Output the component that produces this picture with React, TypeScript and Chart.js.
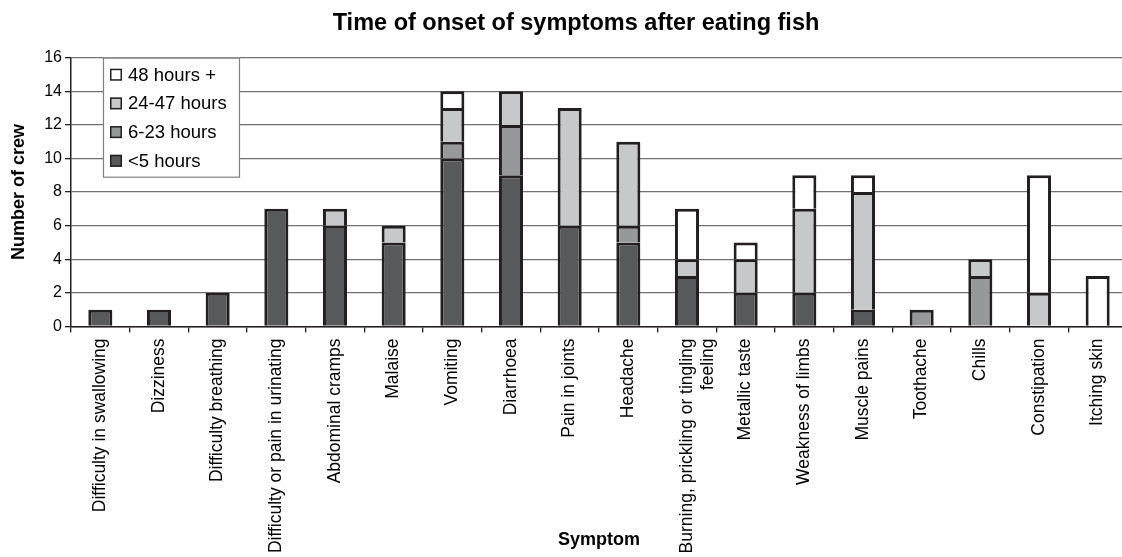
import React, { useEffect, useRef } from 'react';
import { Chart, registerables } from 'chart.js';

Chart.register(...registerables);

const categories: (string | string[])[] = [
  'Difficulty in swallowing',
  'Dizziness',
  'Difficulty breathing',
  'Difficulty or pain in urinating',
  'Abdominal cramps',
  'Malaise',
  'Vomiting',
  'Diarrhoea',
  'Pain in joints',
  'Headache',
  ['Burning, prickling or tingling', 'feeling'],
  'Metallic taste',
  'Weakness of limbs',
  'Muscle pains',
  'Toothache',
  'Chills',
  'Constipation',
  'Itching skin',
];

const under5Hours = [1, 1, 2, 7, 6, 5, 10, 9, 6, 5, 3, 2, 2, 1, 0, 0, 0, 0];
const hours6to23 = [0, 0, 0, 0, 0, 0, 1, 3, 0, 1, 0, 0, 0, 0, 1, 3, 0, 0];
const hours24to47 = [0, 0, 0, 0, 1, 1, 2, 2, 7, 5, 1, 2, 5, 7, 0, 1, 2, 0];
const hours48plus = [0, 0, 0, 0, 0, 0, 1, 0, 0, 0, 3, 1, 2, 1, 0, 0, 7, 3];

const seriesLabels = ['<5 hours', '6-23 hours', '24-47 hours', '48 hours +'];
const seriesColors = ['#58595b', '#97989a', '#c7c8ca', '#ffffff'];

const yTicks = { min: 0, max: 16, step: 2 };

const FONT = '"Liberation Sans", Arial, Helvetica, sans-serif';

const boxLegend = {
  id: 'boxLegend',
  afterDatasetsDraw(chart: any) {
    const ctx = chart.ctx as CanvasRenderingContext2D;
    const { left, top } = chart.chartArea;
    const x = left + 32;
    const y = top;
    const w = 137;
    const h = 120;
    ctx.save();
    ctx.fillStyle = '#ffffff';
    ctx.fillRect(x, y, w, h);
    ctx.strokeStyle = '#808080';
    ctx.lineWidth = 1.2;
    ctx.strokeRect(x + 0.5, y + 0.5, w - 1, h - 1);
    const ds = chart.data.datasets.slice().reverse();
    ds.forEach((d: any, i: number) => {
      const cy = y + 17 + i * 28.7;
      ctx.fillStyle = d.backgroundColor;
      ctx.fillRect(x + 7, cy - 6, 12, 12);
      ctx.strokeStyle = '#231f20';
      ctx.lineWidth = 1.5;
      ctx.strokeRect(x + 7.75, cy - 5.25, 10.5, 10.5);
      ctx.fillStyle = '#000000';
      ctx.font = `18.5px ${FONT}`;
      ctx.textBaseline = 'middle';
      ctx.textAlign = 'left';
      ctx.fillText(d.label, x + 25, cy + 1);
    });
    ctx.restore();
  },
};

export default function App() {
  const canvasRef = useRef<HTMLCanvasElement | null>(null);

  useEffect(() => {
    if (!canvasRef.current) return;
    const seriesData = [under5Hours, hours6to23, hours24to47, hours48plus];
    const chart = new Chart(canvasRef.current, {
      type: 'bar',
      data: {
        labels: categories,
        datasets: seriesData.map((arr, i) => ({
          label: seriesLabels[i],
          data: arr.map((v) => (v === 0 ? null : v)),
          backgroundColor: seriesColors[i],
          borderColor: '#231f20',
          borderWidth: 3,
          barPercentage: 0.41,
          categoryPercentage: 1,
        })),
      },
      options: {
        responsive: false,
        animation: false,
        devicePixelRatio: 1,
        layout: { padding: { left: 25, right: 25, top: 0, bottom: 0 } },
        plugins: {
          legend: { display: false },
          tooltip: { enabled: false },
          title: {
            display: true,
            text: 'Time of onset of symptoms after eating fish',
            color: '#000000',
            font: { family: FONT, size: 23.5, weight: 'bold' },
            padding: { top: 9, bottom: 20.5 },
          },
        },
        scales: {
          x: {
            stacked: true,
            grid: {
              drawOnChartArea: false,
              drawTicks: true,
              tickLength: 6,
              tickColor: '#231f20',
              lineWidth: 1.3,
            },
            border: { color: '#231f20', width: 1.5 },
            ticks: {
              autoSkip: false,
              maxRotation: 90,
              minRotation: 90,
              padding: 6,
              color: '#000000',
              font: { family: FONT, size: 17.5 },
            },
            title: {
              display: true,
              text: 'Symptom',
              color: '#000000',
              font: { family: FONT, size: 18, weight: 'bold' },
              padding: { top: -30.5, bottom: 6.5 },
            },
          },
          y: {
            stacked: true,
            min: yTicks.min,
            max: yTicks.max,
            grid: {
              color: '#707173',
              lineWidth: 1.3,
              tickLength: 6,
              tickColor: '#231f20',
            },
            border: { color: '#231f20', width: 1.5 },
            ticks: {
              stepSize: yTicks.step,
              padding: 3,
              color: '#000000',
              font: { family: FONT, size: 16 },
            },
            title: {
              display: true,
              text: 'Number of crew',
              color: '#000000',
              font: { family: FONT, size: 18, weight: 'bold' },
              padding: { top: -16.3, bottom: 10.9 },
            },
          },
        },
      },
      plugins: [boxLegend],
    });
    return () => chart.destroy();
  }, []);

  return (
    <div
      style={{
        position: 'absolute',
        left: 0,
        top: 0,
        width: 1122,
        height: 557,
        overflow: 'hidden',
        background: '#ffffff',
      }}
    >
      <canvas ref={canvasRef} width={1152} height={557} style={{ width: 1152, height: 557, display: 'block' }} />
    </div>
  );
}
